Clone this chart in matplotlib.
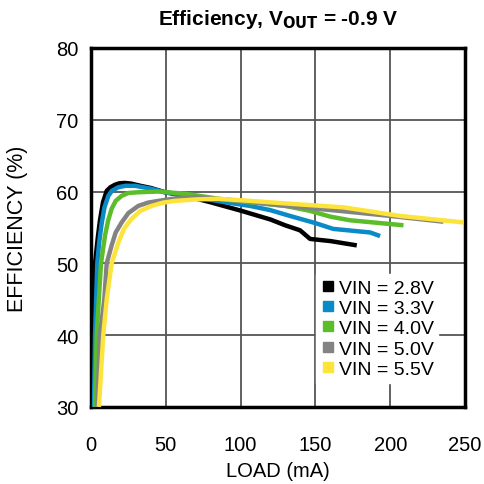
import matplotlib
matplotlib.use('Agg')
import matplotlib.pyplot as plt
from matplotlib.lines import Line2D

plt.rcParams['font.family'] = ['Liberation Sans', 'DejaVu Sans']

# load (mA) vs efficiency (%)
load_28 = [0.3, 1.0, 2.7, 4.5, 6.0, 8.0, 10.5, 13, 16, 19, 22.7, 27, 33, 40, 49.5, 62.8, 80, 100.7, 120, 129.7, 139.7, 146.4, 160, 177.6]
eff_28 = [30, 40, 50, 53.5, 56.0, 58.5, 60.1, 60.6, 60.95, 61.15, 61.2, 61.1, 60.8, 60.5, 59.9, 59.4, 58.5, 57.3, 56.1, 55.3, 54.6, 53.4, 53.1, 52.5]

load_33 = [2.0, 2.7, 4.2, 5.5, 7.1, 9.0, 11.6, 14, 18.3, 23, 29.4, 40, 49.5, 70, 90, 106.3, 120, 133, 150, 161.8, 186.5, 193.2]
eff_33 = [30, 40, 50, 53.0, 55.5, 57.8, 59.4, 60.1, 60.6, 60.8, 60.8, 60.4, 59.9, 59.2, 58.5, 58.0, 57.4, 56.6, 55.6, 54.8, 54.3, 53.8]

load_40 = [2.7, 3.8, 6.7, 9.4, 11.5, 13.8, 16.5, 20.5, 25, 31.6, 45, 62.8, 85, 106.3, 130, 146.4, 160, 173.1, 208.8]
eff_40 = [30, 40, 50, 53.9, 56.0, 57.6, 58.7, 59.4, 59.8, 59.9, 60.0, 59.7, 59.0, 58.5, 58.0, 57.3, 56.5, 56.0, 55.3]

load_50 = [4.2, 6.0, 8.9, 10.5, 13.8, 16.5, 20.5, 25, 31.6, 38, 45, 55, 69.5, 100.7, 130, 166.4, 200, 235.5]
eff_50 = [30, 40, 45, 50, 52.5, 54.3, 55.7, 57.0, 58.0, 58.45, 58.7, 59.0, 59.2, 58.7, 58.0, 57.3, 56.6, 55.8]

load_55 = [5.3, 8.2, 10.5, 13.8, 18.3, 22, 27.1, 33, 40.5, 48, 56, 70, 85, 106.3, 140, 168.7, 206.5, 248.8]
eff_55 = [30, 40, 45, 50, 52.9, 54.8, 56.2, 57.3, 58.0, 58.45, 58.7, 58.9, 59.0, 58.7, 58.2, 57.8, 56.6, 55.7]

labels = ['VIN = 2.8V', 'VIN = 3.3V', 'VIN = 4.0V', 'VIN = 5.0V', 'VIN = 5.5V']
colors = ['#000000', '#0a8ac6', '#5cbd2b', '#838383', '#fde43a']

series = [(load_28, eff_28), (load_33, eff_33), (load_40, eff_40),
          (load_50, eff_50), (load_55, eff_55)]

fig = plt.figure(figsize=(4.84, 4.85), dpi=100)
ax = fig.add_axes([0.188, 0.159, 0.773, 0.740])

for (x, y), c in zip(series, colors):
    ax.plot(x, y, color=c, lw=3.2, solid_capstyle='butt', solid_joinstyle='round', zorder=3)

ax.set_xlim(0, 250)
ax.set_ylim(30, 80)
ax.set_xticks([0, 50, 100, 150, 200, 250])
ax.set_yticks([30, 40, 50, 60, 70, 80])
ax.grid(True, color='#555555', lw=1.3)
ax.set_axisbelow(True)
for s in ax.spines.values():
    s.set_linewidth(2.5)
ax.tick_params(labelsize=14.5, length=0)
ax.tick_params(axis='x', pad=20)
ax.tick_params(axis='y', pad=9)

ax.set_xlabel('LOAD (mA)', fontsize=14.5, labelpad=5)
ax.set_ylabel('EFFICIENCY (%)', fontsize=15.5, labelpad=20)
ax.set_title('Efficiency, V$_{\\mathbf{OUT}}$ = -0.9 V', fontsize=15, fontweight='bold', pad=17)

handles = [Line2D([], [], ls='none', marker='s', color=c, markersize=7.5) for c in colors]
leg = ax.legend(handles, labels, loc='upper left', bbox_to_anchor=(0.602, 0.37),
                fontsize=14, frameon=True, fancybox=False, framealpha=1,
                handlelength=0.7, handletextpad=0.2, labelspacing=0.14,
                borderpad=0.25, borderaxespad=0.0)
leg.get_frame().set_edgecolor('white')
leg.set_zorder(5)

fig.savefig('out.png', dpi=100)
